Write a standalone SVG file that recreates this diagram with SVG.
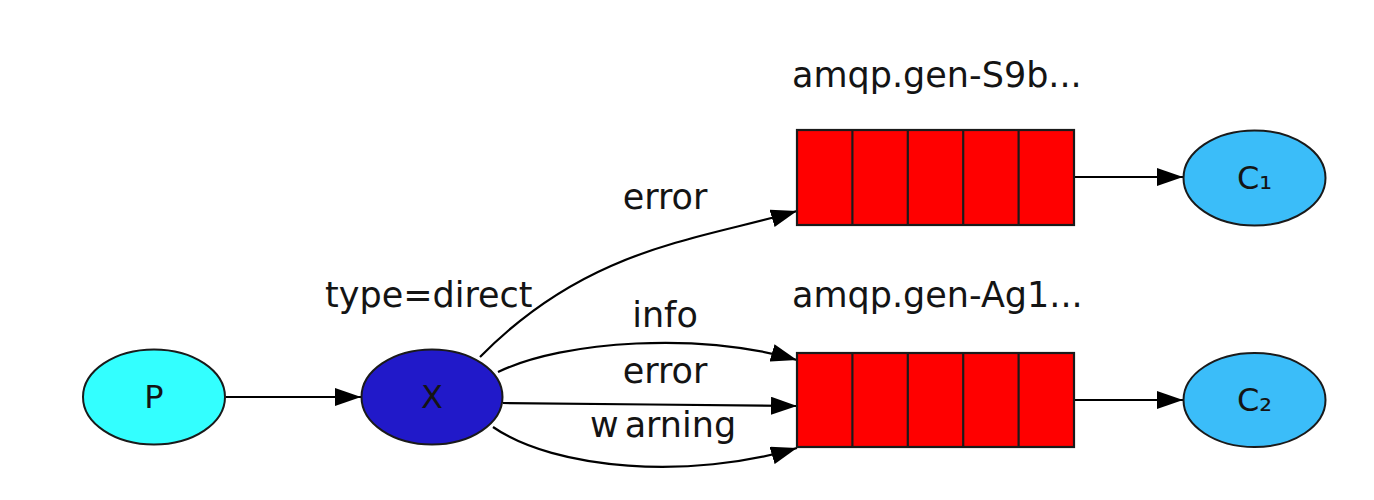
<svg xmlns="http://www.w3.org/2000/svg" width="1374" height="500" viewBox="0 0 1374 500">
<style>
text{font-family:"DejaVu Sans","Liberation Sans",sans-serif;fill:#141414}
.lbl{font-size:35px}
.nl{font-size:32px;text-anchor:middle}
.edge{fill:none;stroke:#000;stroke-width:2.2}
.node{stroke:#1a1a1a;stroke-width:2}
.q{fill:#ff0000;stroke:#1a1a1a;stroke-width:2.2}
.div{stroke:#1a1a1a;stroke-width:2.2}
</style>
<defs>
<marker id="ah" viewBox="0 0 26 18" refX="26" refY="9" markerWidth="26" markerHeight="18" markerUnits="userSpaceOnUse" orient="auto">
<path d="M0,0 L26,9 L0,18 z" fill="#000"/>
</marker>
</defs>
<rect width="1374" height="500" fill="#fff"/>
<g id="connectors">
<path class="edge" d="M226,397 L361,397" marker-end="url(#ah)"/>
<path class="edge" d="M480,357 C588,247 698,240 797,211" marker-end="url(#ah)"/>
<path class="edge" d="M498,372 C565,340 700,332 797,360" marker-end="url(#ah)"/>
<path class="edge" d="M503,403 C600,404 700,405 797,406" marker-end="url(#ah)"/>
<path class="edge" d="M493,427 C555,470 690,480 797,448" marker-end="url(#ah)"/>
<path class="edge" d="M1074,177 L1183,177" marker-end="url(#ah)"/>
<path class="edge" d="M1074,400 L1183,400" marker-end="url(#ah)"/>
<text class="lbl" x="665" y="209" text-anchor="middle">error</text>
<text class="lbl" x="665" y="327" text-anchor="middle">info</text>
<text class="lbl" x="665" y="383" text-anchor="middle">error</text>
<text class="lbl" x="590" y="437">w<tspan dx="6">arning</tspan></text>
</g>
<g id="P">
<ellipse class="node" cx="154" cy="397" rx="71" ry="47.5" fill="#33ffff"/>
<text class="nl" x="154" y="408">P</text>
</g>
<g id="X">
<ellipse class="node" cx="432" cy="397" rx="70.5" ry="47.5" fill="#2119c9"/>
<text class="nl" x="432" y="408">X</text>
<text class="lbl" x="325" y="307">type=direct</text>
</g>
<g id="Q1">
<rect class="q" x="797" y="130" width="277" height="95"/>
<line class="div" x1="852.4" y1="130" x2="852.4" y2="225"/>
<line class="div" x1="907.8" y1="130" x2="907.8" y2="225"/>
<line class="div" x1="963.2" y1="130" x2="963.2" y2="225"/>
<line class="div" x1="1018.6" y1="130" x2="1018.6" y2="225"/>
<text class="lbl" x="792" y="87">amqp.gen-S9b...</text>
</g>
<g id="Q2">
<rect class="q" x="797" y="353" width="277" height="94"/>
<line class="div" x1="852.4" y1="353" x2="852.4" y2="447"/>
<line class="div" x1="907.8" y1="353" x2="907.8" y2="447"/>
<line class="div" x1="963.2" y1="353" x2="963.2" y2="447"/>
<line class="div" x1="1018.6" y1="353" x2="1018.6" y2="447"/>
<text class="lbl" x="792" y="307">amqp.gen-Ag1...</text>
</g>
<g id="C1">
<ellipse class="node" cx="1254.5" cy="178" rx="71" ry="47.5" fill="#3bbdf9"/>
<text class="nl" x="1254.5" y="189">C₁</text>
</g>
<g id="C2">
<ellipse class="node" cx="1254.5" cy="400" rx="71" ry="47" fill="#3bbdf9"/>
<text class="nl" x="1254.5" y="411">C₂</text>
</g>
</svg>
